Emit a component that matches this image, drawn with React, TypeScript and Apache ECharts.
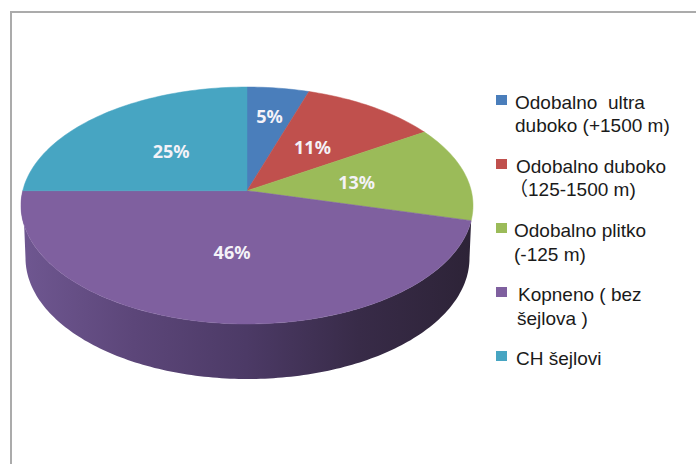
import React, { useEffect, useRef } from "react";
import * as echarts from "echarts";

const categories = [
  "Odobalno  ultra\nduboko (+1500 m)",
  "Odobalno duboko\n（125-1500 m)",
  "Odobalno plitko\n(-125 m)",
  "Kopneno ( bez\nšejlova )",
  "CH šejlovi",
];
const values = [5, 11, 13, 46, 25];
const colors = ["#4a7ebb", "#c0504d", "#9bbb59", "#7f609f", "#47a5c2"];

const wallIndex = 3;
const total = values.reduce((a, b) => a + b, 0);
const rows = values.map((v, i) => {
  const before = values.slice(0, i).reduce((a, b) => a + b, 0);
  return [before / total, (before + v) / total, v, i];
});

// Perspective projection of the pie disc onto the screen ellipse.
const TOP = { cx: 247, cy: 205.5, rx: 226, ry: 118.5 };
const BOTTOM = { cx: 247.5, cy: 258, rx: 222, ry: 121 };
const TILT = 0.125;

function project(r: number, frac: number): number[] {
  const a = frac * Math.PI * 2;
  const x = r * Math.sin(a);
  const y = r * Math.cos(a);
  const d = 1 + TILT * y;
  return [
    TOP.cx + (TOP.rx * x * Math.sqrt(1 - TILT * TILT)) / d,
    TOP.cy - (TOP.ry * (y + TILT)) / d,
  ];
}

function renderFace(_: any, api: any) {
  const start = api.value(0);
  const end = api.value(1);
  const v = api.value(2);
  const idx = api.value(3);
  const pts: number[][] = [project(0, 0)];
  const n = Math.max(8, Math.ceil((end - start) * 240));
  for (let k = 0; k <= n; k++) pts.push(project(1, start + ((end - start) * k) / n));
  const [lx, ly] = project(v < 8 ? 0.7 : 0.5, (start + end) / 2);
  return {
    type: "group",
    children: [
      {
        type: "polygon",
        shape: { points: pts },
        style: { fill: colors[idx], stroke: colors[idx], lineWidth: 0.5 },
      },
      {
        type: "text",
        z2: 10,
        style: {
          x: lx,
          y: ly,
          text: `${v}%`,
          fill: "#f4f2f8",
          font: "bold 18px 'Noto Sans', sans-serif",
          align: "center",
          verticalAlign: "middle",
        },
      },
    ],
  };
}

function renderWall(_: any, api: any) {
  const end = api.value(1);
  const start = api.value(0);
  const pts: number[][] = [];
  const n = 160;
  // Outer rim of the slice along the front of the top face (right to left).
  for (let k = 0; k <= n; k++) pts.push(project(1, start + ((end - start) * k) / n));
  // Lower rim of the body, from left to right.
  for (let k = 0; k <= n; k++) {
    const a = Math.PI + (Math.PI * k) / n;
    pts.push([BOTTOM.cx + BOTTOM.rx * Math.cos(a), BOTTOM.cy - BOTTOM.ry * Math.sin(a)]);
  }
  return {
    type: "polygon",
    shape: { points: pts },
    style: {
      fill: new echarts.graphic.LinearGradient(0, 0, 1, 0, [
        { offset: 0, color: "#6f5791" },
        { offset: 0.25, color: "#5c4679" },
        { offset: 0.5, color: "#4c3a66" },
        { offset: 0.75, color: "#382b48" },
        { offset: 1, color: "#2d2337" },
      ]),
    },
  };
}

const swatchTops = [95, 159, 223, 287, 351];
const swatchLeft = 496;
const textLayout = [
  [[515, 102], [515, 125]],
  [[516, 166], [509, 189]],
  [[514, 230], [514, 254]],
  [[518, 294], [517, 318]],
  [[516, 358]],
];

function legendGraphics() {
  const out: any[] = [];
  categories.forEach((name, i) => {
    out.push({
      type: "rect",
      left: swatchLeft,
      top: swatchTops[i],
      shape: { width: 11, height: 10 },
      style: { fill: colors[i] },
    });
    name.split("\n").forEach((line, j) => {
      const [x, y] = textLayout[i][j];
      out.push({
        type: "text",
        x,
        y,
        style: {
          text: line,
          fill: "#1a1a1a",
          font: "19px 'Liberation Sans', 'Noto Sans CJK SC', sans-serif",
          align: "left",
          verticalAlign: "middle",
        },
      });
    });
  });
  return out;
}

export default function App() {
  const ref = useRef<HTMLDivElement>(null);
  useEffect(() => {
    const chart = echarts.init(ref.current!, undefined, { renderer: "svg" });
    chart.setOption({
      animation: false,
      backgroundColor: "#ffffff",
      graphic: [
        {
          type: "polyline",
          shape: { points: [[11, 464], [11, 12], [696, 12]] },
          style: { stroke: "#ababab", lineWidth: 2, fill: "none" },
        },
        ...legendGraphics(),
      ],
      series: [
        {
          type: "custom",
          name: "wall",
          coordinateSystem: "none",
          z: 1,
          silent: true,
          renderItem: renderWall,
          data: [rows[wallIndex]],
        },
        {
          type: "custom",
          name: "faces",
          coordinateSystem: "none",
          z: 2,
          silent: true,
          renderItem: renderFace,
          data: rows,
        },
      ],
    });
    return () => chart.dispose();
  }, []);
  return (
    <div
      ref={ref}
      style={{ position: "absolute", left: 0, top: 0, width: 696, height: 464 }}
    />
  );
}
